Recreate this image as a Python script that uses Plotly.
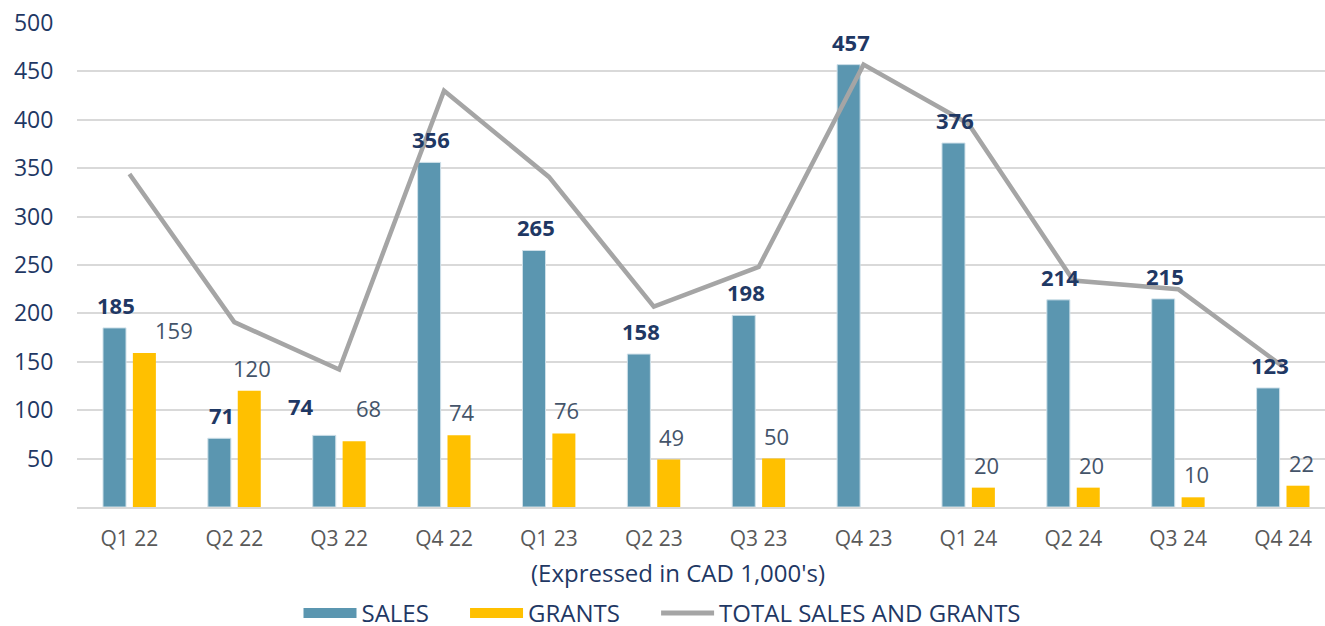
import plotly.graph_objects as go

quarters = ["Q1 22", "Q2 22", "Q3 22", "Q4 22", "Q1 23", "Q2 23",
            "Q3 23", "Q4 23", "Q1 24", "Q2 24", "Q3 24", "Q4 24"]
sales = [185, 71, 74, 356, 265, 158, 198, 457, 376, 214, 215, 123]
grants = [159, 120, 68, 74, 76, 49, 50, 0, 20, 20, 10, 22]
totals = [344, 191, 142, 430, 341, 207, 248, 457, 396, 234, 225, 145]
y_ticks = [50, 100, 150, 200, 250, 300, 350, 400, 450, 500]

# label nudges (pixels) to mimic the original label placement
sales_dx = [0, 0, -25, 0, 0, 0, 0, 0, 0, 0, 0, 0]
sales_dy = [0, 0, 6, 0, 0, 0, 0, 0, 0, 0, 0, 0]
grants_dx = [27, 0, 11, 0, 0, 0, 0, 0, 0, 0, 0, 0]
grants_dy = [0, 0, 10, 0, 0, 0, 0, 0, 0, 0, 0, 0]

FONT = "Open Sans"
NAVY = "#1F3864"
SALES_C = "#5B96B0"
GRANTS_C = "#FFC000"
LINE_C = "#A5A5A5"
GAP = "\u00a0" * 5

fig = go.Figure()
fig.add_trace(go.Bar(x=quarters, y=sales, name="SALES", showlegend=False,
                     marker=dict(color=SALES_C, line=dict(color="#cfe0e9", width=1))))
fig.add_trace(go.Bar(x=quarters, y=grants, name="GRANTS", showlegend=False,
                     marker=dict(color=GRANTS_C, line=dict(width=0))))
fig.add_trace(go.Scatter(x=quarters, y=totals, name="TOTAL SALES AND GRANTS",
                         mode="lines", line=dict(color=LINE_C, width=4.5),
                         showlegend=False))
# legend entries (wide swatches like the original)
for nm, col, w in [("SALES" + GAP, SALES_C, 12), ("GRANTS" + GAP, GRANTS_C, 12),
                   ("TOTAL SALES AND GRANTS", LINE_C, 5)]:
    fig.add_trace(go.Scatter(x=[None], y=[None], name=nm, mode="lines",
                             line=dict(color=col, width=w), hoverinfo="skip"))

annotations = []
for i, q in enumerate(quarters):
    annotations.append(dict(
        x=q, y=sales[i], xref="x", yref="y", text=str(sales[i]),
        showarrow=False, yanchor="bottom", xanchor="center",
        xshift=-15 + 2 + sales_dx[i], yshift=6 + sales_dy[i],
        font=dict(family=FONT, size=22, color=NAVY, weight="bold")))
    if grants[i] > 0:
        annotations.append(dict(
            x=q, y=grants[i], xref="x", yref="y", text=str(grants[i]),
            showarrow=False, yanchor="bottom", xanchor="center",
            xshift=15 + 3 + grants_dx[i], yshift=6 + grants_dy[i],
            font=dict(family=FONT, size=22, color="#44546A")))

# x-axis caption (placed like the original, slightly left of plot centre)
annotations.append(dict(
    text="(Expressed in CAD 1,000's)", xref="paper", yref="paper",
    x=0.4816, y=-0.136, xanchor="center", yanchor="middle", showarrow=False,
    font=dict(family=FONT, size=24, color=NAVY)))

fig.update_layout(
    width=1325, height=626,
    margin=dict(l=77, r=0, t=23, b=119),
    paper_bgcolor="white", plot_bgcolor="white",
    barmode="group", bargap=0.43, bargroupgap=0.23,
    font=dict(family=FONT, color=NAVY),
    annotations=annotations,
    showlegend=True,
    legend=dict(orientation="h", xref="container", yref="container",
                x=0.5, xanchor="center", y=0.02, yanchor="middle",
                font=dict(family=FONT, size=24, color=NAVY),
                itemwidth=53, traceorder="normal"),
    xaxis=dict(
        range=[-0.5, 11.4], showgrid=False, automargin=False,
        showline=True, linecolor="#D9D9D9", linewidth=2,
        ticks="outside", ticklen=12, tickcolor="rgba(0,0,0,0)",
        tickfont=dict(family=FONT, size=21, color="#595959"),
    ),
    yaxis=dict(
        range=[0, 500], tickvals=y_ticks, automargin=False,
        showgrid=True, gridcolor="#D9D9D9", gridwidth=1.5,
        zeroline=False, showline=False,
        ticks="outside", ticklen=18, tickcolor="rgba(0,0,0,0)",
        tickfont=dict(family=FONT, size=23, color=NAVY),
    ),
)

fig.write_html("out.html", config={"displayModeBar": False},
               post_script="document.body.style.margin='0px';document.body.style.overflow='hidden';")
